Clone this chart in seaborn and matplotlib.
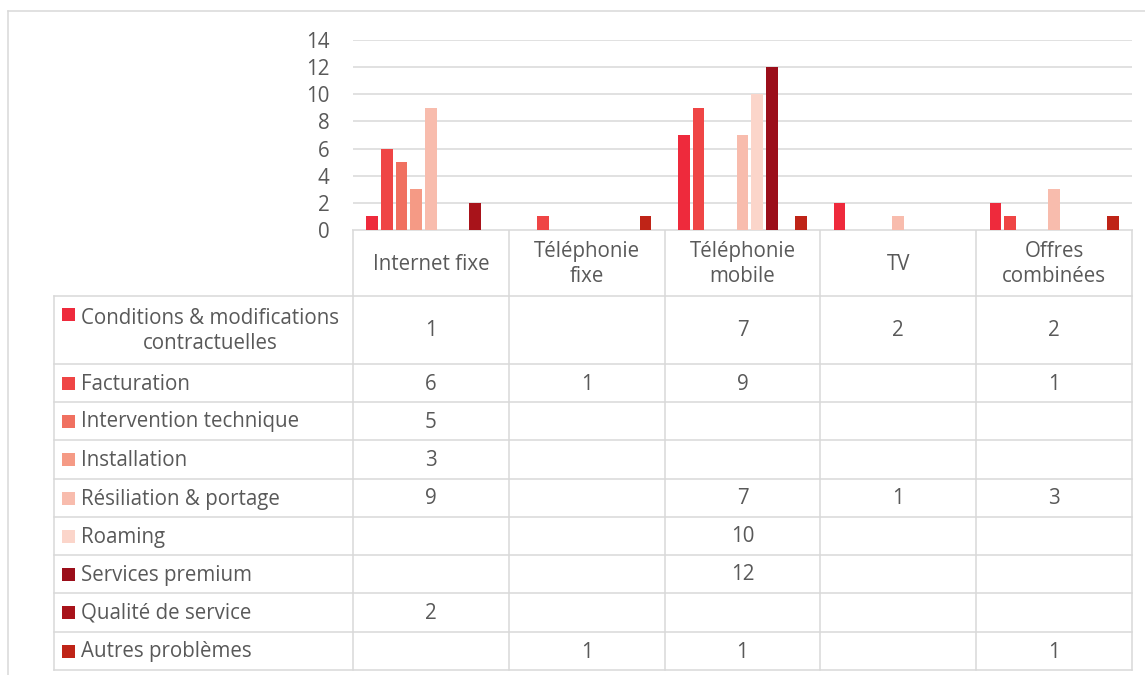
import numpy as np
import pandas as pd
import seaborn as sns
import matplotlib.pyplot as plt

# Data (blank cells = None)
categories = ['Internet fixe', 'Téléphonie fixe', 'Téléphonie mobile', 'TV', 'Offres combinées']
header_labels = ['Internet fixe', 'Téléphonie\nfixe', 'Téléphonie\nmobile', 'TV', 'Offres\ncombinées']

series = ['Conditions & modifications contractuelles', 'Facturation', 'Intervention technique',
          'Installation', 'Résiliation & portage', 'Roaming', 'Services premium',
          'Qualité de service', 'Autres problèmes']
series_labels = ['Conditions & modifications\ncontractuelles', 'Facturation', 'Intervention technique',
                 'Installation', 'Résiliation & portage', 'Roaming', 'Services premium',
                 'Qualité de service', 'Autres problèmes']

conditions = [1, None, 7, 2, 2]
facturation = [6, 1, 9, None, 1]
intervention = [5, None, None, None, None]
installation = [3, None, None, None, None]
resiliation = [9, None, 7, 1, 3]
roaming = [None, None, 10, None, None]
premium = [None, None, 12, None, None]
qualite = [2, None, None, None, None]
autres = [None, 1, 1, None, 1]

colors = ['#EE2A3C', '#EF4545', '#F07060', '#F59A85', '#F8BCAD',
          '#FBD5CA', '#9B0E1A', '#A8131A', '#BF2417']

values = [conditions, facturation, intervention, installation, resiliation,
          roaming, premium, qualite, autres]

yticks = [0, 2, 4, 6, 8, 10, 12, 14]

# Long-form table for seaborn
rows = []
for name, vals in zip(series, values):
    for cat, v in zip(categories, vals):
        rows.append({'Produit': cat, 'Motif': name, 'Nombre': v})
df = pd.DataFrame(rows).dropna()

TXT = '#595959'
LINE = '#D9D9D9'
FS = 14.8
plt.rcParams['font.family'] = ['Open Sans', 'DejaVu Sans']

W, H = 1145, 675
fig = plt.figure(figsize=(W / 100, H / 100), dpi=100)

# Plot area in pixel coordinates
x0, x1 = 353, 1132
y_top, y_base = 40, 230
ax = fig.add_axes([x0 / W, 1 - y_base / H, (x1 - x0) / W, (y_base - y_top) / H])

sns.barplot(data=df, x='Produit', y='Nombre', hue='Motif', order=categories,
            hue_order=series, palette=dict(zip(series, colors)), saturation=1,
            width=0.848, gap=0.2, errorbar=None, linewidth=0, legend=False, ax=ax)

ax.set_xlim(-0.5, len(categories) - 0.5)
ax.set_ylim(0, 14)
ax.set_yticks(yticks)
ax.set_xticks([])
ax.set_xlabel('')
ax.set_ylabel('')
ax.tick_params(axis='y', length=0, pad=17, labelsize=FS, labelcolor=TXT)
ax.grid(axis='y', color=LINE, linewidth=1.1)
ax.set_axisbelow(True)
for s in ax.spines.values():
    s.set_visible(False)

# Overlay in pixel coordinates for the data table and frame
ov = fig.add_axes([0, 0, 1, 1], zorder=-1)
ov.set_xlim(0, W)
ov.set_ylim(H, 0)
ov.axis('off')

# Outer chart frame (left and top edges visible)
ov.plot([8, 8], [11, H], color=LINE, lw=1.1)
ov.plot([8, W], [11, 11], color=LINE, lw=1.1)

col_edges = np.linspace(x0, x1, len(categories) + 1)
row_edges = [296, 364, 402, 440, 479, 517, 555, 593, 632, 670]
tbl_left = 54

# Table grid
ov.plot([x0, x1], [y_base, y_base], color=LINE, lw=1.1)
for y in row_edges:
    ov.plot([tbl_left, x1], [y, y], color=LINE, lw=1.1)
ov.plot([tbl_left, tbl_left], [row_edges[0], row_edges[-1]], color=LINE, lw=1.1)
for x in col_edges:
    ov.plot([x, x], [y_base, row_edges[-1]], color=LINE, lw=1.1)

# Column headers
for i, lab in enumerate(header_labels):
    cx = (col_edges[i] + col_edges[i + 1]) / 2
    ov.text(cx, (y_base + row_edges[0]) / 2 + 1, lab, ha='center', va='center',
            fontsize=FS, color=TXT, linespacing=1.3)

# Rows: legend key, label and values
for r, (lab, vals, c) in enumerate(zip(series_labels, values, colors)):
    ya, yb = row_edges[r], row_edges[r + 1]
    cy = (ya + yb) / 2
    if '\n' in lab:
        ky = ya + 18.5
    else:
        ky = cy
    ov.add_patch(plt.Rectangle((62, ky - 6.5), 13, 13, color=c, lw=0))
    ov.text(81, cy + 1, lab, ha='left', va='center', fontsize=FS, color=TXT,
            multialignment='center', linespacing=1.3)
    for i, v in enumerate(vals):
        if v is None:
            continue
        cx = (col_edges[i] + col_edges[i + 1]) / 2
        ov.text(cx, cy + 1, str(v), ha='center', va='center', fontsize=FS, color=TXT)

fig.savefig('out.png', dpi=100)
